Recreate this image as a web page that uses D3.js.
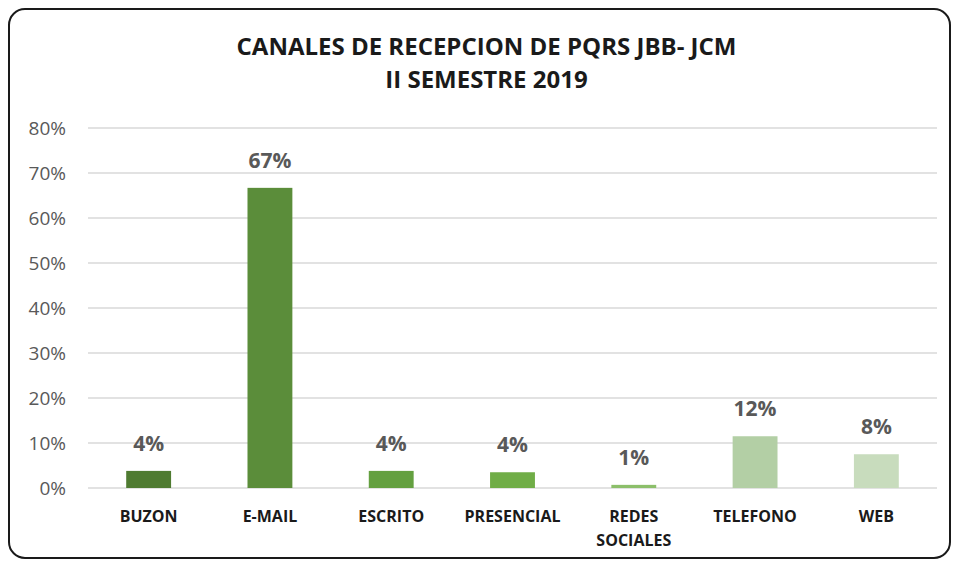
<!DOCTYPE html>
<html>
<head>
<meta charset="utf-8">
<script src="https://cdn.jsdelivr.net/npm/d3@7"></script>
<style>
  body { margin: 0; background: #fff; }
  svg text { font-family: "Open Sans", "Noto Sans", sans-serif; }
</style>
</head>
<body>
<div id="chart"></div>
<script>
var categories = ["BUZON", "E-MAIL", "ESCRITO", "PRESENCIAL", "REDES SOCIALES", "TELEFONO", "WEB"]
var values = [3.8, 66.7, 3.8, 3.5, 0.7, 11.5, 7.5]
var colors = ["#4f7b31", "#5b8d3a", "#64a040", "#70ad47", "#8cbf6a", "#b3cfa5", "#c8dcbd"]
var yTicks = [0, 10, 20, 30, 40, 50, 60, 70, 80]
var titleLines = ["CANALES DE RECEPCION DE PQRS JBB- JCM", "II SEMESTRE 2019"]

var W = 953, H = 561
var margin = {top: 128, right: 16, bottom: 73, left: 88},
  width = W - margin.left - margin.right,
  height = H - margin.top - margin.bottom

var svg = d3.select("#chart").append("svg")
  .attr("width", W)
  .attr("height", H)

// frame
svg.append("rect")
  .attr("x", 9).attr("y", 9)
  .attr("width", W - 12).attr("height", H - 12)
  .attr("rx", 16)
  .attr("fill", "#fff")
  .attr("stroke", "#1a1a1a")
  .attr("stroke-width", 2)

svg.append("g").selectAll("text")
  .data(titleLines)
  .enter().append("text")
  .attr("x", W / 2 + 10)
  .attr("y", (d, i) => 55 + i * 33)
  .attr("text-anchor", "middle")
  .attr("font-size", "24px")
  .attr("font-weight", "bold")
  .attr("fill", "#1a1a1a")
  .text(d => d)

var g = svg.append("g")
  .attr("transform", "translate(" + margin.left + "," + margin.top + ")")

var x = d3.scaleBand()
  .domain(categories)
  .range([0, width])
  .paddingInner(0.63)
  .paddingOuter(0.315)

var y = d3.scaleLinear()
  .domain([0, 80])
  .range([height, 0])

// gridlines
g.append("g").selectAll("line")
  .data(yTicks)
  .enter().append("line")
  .attr("x1", 0).attr("x2", width)
  .attr("y1", d => y(d)).attr("y2", d => y(d))
  .attr("stroke", "#d9d9d9")
  .attr("stroke-width", 1.5)

var yAxis = g.append("g")
  .call(d3.axisLeft(y).tickValues(yTicks).tickFormat(d => d + "%").tickSize(0).tickPadding(22))
yAxis.select(".domain").remove()
yAxis.selectAll("text")
  .attr("font-size", "19px")
  .attr("fill", "#595959")
  .attr("font-family", "'Open Sans', sans-serif")

g.append("g").selectAll("rect")
  .data(values)
  .enter().append("rect")
  .attr("x", (d, i) => x(categories[i]))
  .attr("y", d => y(d))
  .attr("width", x.bandwidth())
  .attr("height", d => height - y(d))
  .attr("fill", (d, i) => colors[i])

g.append("g").selectAll("text")
  .data(values)
  .enter().append("text")
  .attr("x", (d, i) => x(categories[i]) + x.bandwidth() / 2)
  .attr("y", d => y(d) - 20)
  .attr("text-anchor", "middle")
  .attr("font-size", "21px")
  .attr("font-weight", "bold")
  .attr("fill", "#595959")
  .text(d => Math.round(d) + "%")

var xAxis = g.append("g")
  .attr("transform", "translate(0," + height + ")")
  .call(d3.axisBottom(x).tickSize(0).tickFormat(""))
xAxis.select(".domain").remove()

xAxis.selectAll(".tick").each(function (d) {
  var words = d.split(" ")
  var t = d3.select(this).append("text")
    .attr("text-anchor", "middle")
    .attr("font-size", "16px")
    .attr("font-weight", "bold")
    .attr("fill", "#1a1a1a")
  words.forEach((w, i) => {
    t.append("tspan").attr("x", 0).attr("y", 34 + i * 24).text(w)
  })
})
</script>
</body>
</html>
